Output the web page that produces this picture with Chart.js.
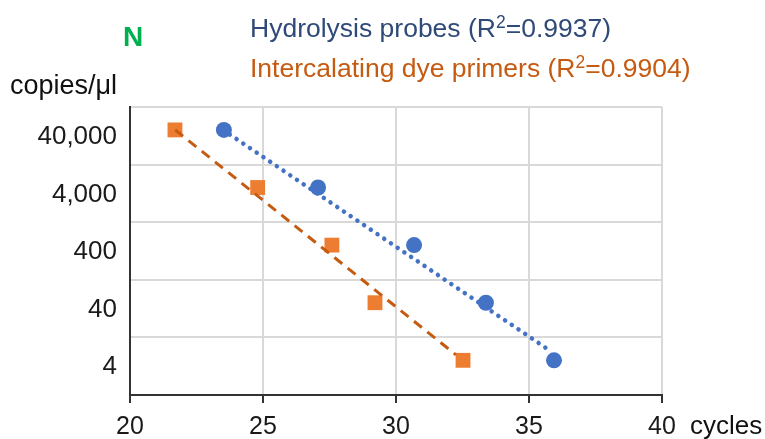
<!DOCTYPE html>
<html>
<head>
<meta charset="utf-8">
<script src="https://cdn.jsdelivr.net/npm/chart.js@4"></script>
<style>
  body { margin: 0; background: #fff; }
  #wrap { position: relative; width: 765px; height: 439px; font-family: "Liberation Sans", Arial, sans-serif; }
  #chart { position: absolute; left: 0; top: 0; }
  .txt { position: absolute; line-height: 1; white-space: nowrap; }
  .txt sup { font-size: 0.66em; vertical-align: 0.5em; line-height: 0; }
</style>
</head>
<body>
<div id="wrap">
  <canvas id="chart" width="765" height="439"></canvas>
  <div class="txt" style="left:123px; top:23px; font-size:28px; font-weight:bold; color:#00b050;">N</div>
  <div class="txt" style="left:250px; top:15px; font-size:26.5px; color:#2f4a78;">Hydrolysis probes (R<sup>2</sup>=0.9937)</div>
  <div class="txt" style="left:250px; top:55px; font-size:26.5px; color:#c55a11;">Intercalating dye primers (R<sup>2</sup>=0.9904)</div>
  <div class="txt" style="left:10px; top:72px; font-size:27px; color:#111;">copies/μl</div>
  <div class="txt" style="left:690px; top:412px; font-size:26px; color:#111;">cycles</div>
</div>
<script>
// values
const copies = [40000, 4000, 400, 40, 4];
const cyclesProbes = [23.53, 27.07, 30.68, 33.38, 35.94];
const cyclesDye = [21.69, 24.8, 27.59, 29.21, 32.52];

// trendline end points (as drawn in the picture)
const trendProbesX = [23.5, 35.65];
const trendProbesY = [40000, 6.5];
const trendDyeX = [21.7, 32.25];
const trendDyeY = [40000, 5];

// axis ticks
const xTicks = [20, 25, 30, 35, 40];
const yGridValues = [1, 10, 100, 1000, 10000, 100000];
const yTickValues = [4, 40, 400, 4000, 40000];
const yTickLabels = ['4', '40', '400', '4,000', '40,000'];

const toPoints = (xs, ys) => xs.map((x, i) => ({ x: x, y: ys[i] }));

const ctx = document.getElementById('chart').getContext('2d');
const chart = new Chart(ctx, {
    type: 'scatter',
    data: {
        datasets: [
            {
                label: 'Hydrolysis trend',
                data: toPoints(trendProbesX, trendProbesY),
                showLine: true,
                borderColor: '#4472c4',
                borderWidth: 4.5,
                borderDash: [0.1, 8],
                borderCapStyle: 'round',
                pointRadius: 0
            },
            {
                label: 'Dye trend',
                data: toPoints(trendDyeX, trendDyeY),
                showLine: true,
                borderColor: '#c55a11',
                borderWidth: 3,
                borderDash: [10, 7],
                pointRadius: 0
            },
            {
                label: 'Hydrolysis probes',
                data: toPoints(cyclesProbes, copies),
                pointStyle: 'circle',
                pointRadius: 8,
                backgroundColor: '#4472c4',
                borderColor: '#4472c4',
                borderWidth: 0
            },
            {
                label: 'Intercalating dye primers',
                data: toPoints(cyclesDye, copies),
                pointStyle: 'rect',
                pointRadius: 10.5,
                backgroundColor: '#ed7d31',
                borderColor: '#ed7d31',
                borderWidth: 0
            }
        ]
    },
    options: {
        responsive: false,
        animation: false,
        layout: { padding: { top: 107, right: 103, left: 0, bottom: 0 } },
        plugins: {
            legend: { display: false },
            tooltip: { enabled: false }
        },
        scales: {
            x: {
                type: 'linear',
                min: 20,
                max: 40,
                afterBuildTicks: scale => { scale.ticks = xTicks.map(v => ({ value: v })); },
                afterFit: scale => { scale.height = 44; },
                grid: {
                    color: '#d9d9d9',
                    lineWidth: 2,
                    tickColor: '#333',
                    tickLength: 8
                },
                border: { color: '#333', width: 2 },
                ticks: {
                    font: { family: 'Liberation Sans', size: 25 },
                    color: '#1a1a1a',
                    padding: 9,
                    maxRotation: 0
                }
            },
            y: {
                type: 'logarithmic',
                min: 1,
                max: 100000,
                afterBuildTicks: scale => {
                    scale.ticks = yGridValues.concat(yTickValues)
                        .sort((a, b) => a - b)
                        .map(v => ({ value: v }));
                },
                afterFit: scale => { scale.width = 130; },
                grid: {
                    color: c => yGridValues.includes(c.tick.value) ? '#d9d9d9' : 'rgba(0,0,0,0)',
                    lineWidth: 2,
                    drawTicks: false
                },
                border: { color: '#333', width: 2 },
                ticks: {
                    autoSkip: false,
                    font: { family: 'Liberation Sans', size: 26 },
                    color: '#1a1a1a',
                    padding: 13,
                    labelOffset: 7,
                    callback: function (value) {
                        const i = yTickValues.indexOf(value);
                        return i >= 0 ? yTickLabels[i] : '';
                    }
                }
            }
        }
    }
});
</script>
</body>
</html>
